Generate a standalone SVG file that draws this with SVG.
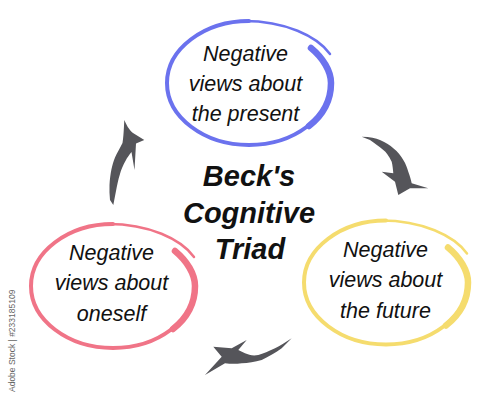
<svg xmlns="http://www.w3.org/2000/svg" xmlns:xlink="http://www.w3.org/1999/xlink" width="500" height="401" viewBox="0 0 500 401">
  <style>
    .lbl { font-family: "Liberation Sans", Arial, sans-serif; font-style: italic; font-size: 21.5px; fill: #111; text-anchor: middle; }
    .title { font-family: "Liberation Sans", Arial, sans-serif; font-style: italic; font-weight: bold; font-size: 29px; fill: #111; text-anchor: middle; }
    .ring { fill: none; stroke-linecap: round; stroke-linejoin: round; }
    .arrow { fill: #55555a; stroke: none; }
    .wm { font-family: "Liberation Sans", Arial, sans-serif; font-size: 8.5px; fill: #666; }
  </style>
  <defs>
    <g id="ring">
      <path class="ring" stroke-width="4" d="M 62 -35 C 74 -25, 82 -12, 82 0 C 82 34, 45 62, 0 62 C -45 62, -82 34, -82 0 C -82 -34, -45 -62, 0 -62"/>
      <path class="ring" stroke-width="6.5" d="M 62 -35 C 74 -25, 82 -12, 82 0 C 82 17, 74 32, 60 43"/>
      <path class="ring" stroke-width="2.5" d="M -5 -62 C 36 -62, 68 -47, 81 -29"/>
    </g>
  </defs>
  <rect width="500" height="401" fill="#ffffff"/>

  <g id="connectors">
    <path id="arrow-oneself-present" class="arrow" d="M 124.3 120 C 126 124, 129 130, 133 133 L 144.3 140 L 136 143.5 L 134.5 170 L 131.5 152 C 129 155, 127 158, 126 160 C 123 165, 121 170, 120 174 C 118 180, 117 186, 116 191 L 113.3 205 L 110 200 C 109.5 195, 109.3 190, 109.5 185 C 109.8 179, 110.5 174, 111.5 169 C 112.5 165, 113.5 161, 115 157.5 C 117 153, 120 148, 122.5 143 C 123.5 137, 123.8 130, 124.3 120 Z"/>
    <path id="arrow-present-future" class="arrow" d="M 361.7 136.7 C 370 137, 376 138, 380 140 C 386 143, 390 145, 393.3 148.3 C 398 152, 401 156, 403.3 160 C 406 164, 407 168, 408.3 171.7 C 410 176, 411 180, 411.7 183.3 L 428.3 188.3 L 410 188.3 L 398.3 195 L 395 181.7 L 381.7 171.7 L 393.3 173.3 C 393 169, 392.5 165, 391.7 161.7 C 389 156, 386 152, 383.3 150 C 379 146, 374 143, 370 140 Z"/>
    <path id="arrow-future-oneself" class="arrow" d="M 291.7 338.3 C 286 342, 280 346, 275 348.3 C 269 351, 263 354, 258.3 355 C 253 356, 249 355, 245 353.3 L 238.3 350 L 246.7 340 L 231.7 348.3 L 213.3 346.7 L 221.7 356.7 L 205 375 L 225 363.3 C 231 364, 236 364, 241.7 363.3 C 248 363, 255 362, 261.7 360 C 268 357, 275 353, 281.7 348.3 Z"/>
  </g>

  <g id="node-present">
    <use xlink:href="#ring" href="#ring" transform="translate(249,83)" stroke="#6b72ee"/>
    <text class="lbl" x="245.5" y="61">Negative</text>
    <text class="lbl" x="245.5" y="91">views about</text>
    <text class="lbl" x="245.5" y="121">the present</text>
  </g>

  <g id="node-future">
    <use xlink:href="#ring" href="#ring" transform="translate(386,282.5)" stroke="#f5dc6e"/>
    <text class="lbl" x="385.5" y="256.5">Negative</text>
    <text class="lbl" x="385.5" y="287">views about</text>
    <text class="lbl" x="385.5" y="317.5">the future</text>
  </g>

  <g id="node-oneself">
    <use xlink:href="#ring" href="#ring" transform="translate(113,286)" stroke="#f07487"/>
    <text class="lbl" x="111.5" y="259.5">Negative</text>
    <text class="lbl" x="111.5" y="290">views about</text>
    <text class="lbl" x="111.5" y="320.5">oneself</text>
  </g>

  <g id="title">
    <text class="title" x="249" y="185.5">Beck's</text>
    <text class="title" x="249" y="222.5">Cognitive</text>
    <text class="title" x="250" y="259">Triad</text>
  </g>

  <text class="wm" transform="translate(15,392) rotate(-90)">Adobe Stock | #233185109</text>
</svg>
